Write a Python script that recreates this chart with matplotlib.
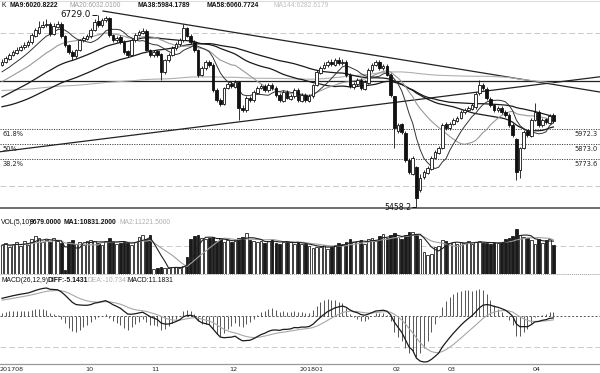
import numpy as np
import pandas as pd
import matplotlib
matplotlib.use("Agg")
import matplotlib.pyplot as plt

# ---------------- data ----------------
lead_close = [6310,6325,6298,6280,6302,6335,6350,6332,6318,6290,
              6275,6262,6285,6306,6322,6340,6365,6352,6330,6312,
              6296,6280,6268,6255,6270,6292,6315,6338,6356,6372,
              6360,6341,6320,6305,6288,6272,6259,6246,6262,6281,
              6300,6318,6334,6350,6336,6317,6299,6284,6270,6288,
              6306,6324,6345,6362,6378,6365,6348,6329,6311,6293,
              6276,6260,6274,6291,6309,6326,6342,6330,6314,6298,
              6283,6268,6252,6238,6250,6266,6284,6301,6318,6305,
              6290,6276,6262,6248,6235,6222,
              6205,6170,6132,6095,6060,6028,6002,5980,5962,5948,
              5940,5955,5970,5985,5962,5948,5960,5975,5990,5972,
              5968,5985,5978,6002,6020,6012,6035,6050,6044,6068,
              6085,6078,6102,6120,6112,6138,6155,6148,6170,6188,
              6180,6205,6222,6215,6240,6256,6248,6272,6290,6282,
              6305,6322,6315,6340,6358,6350,6375,6392]

open_ = [6400,6420,6440,6466,6480,6500,6515,6528,6548,6592,
         6610,6650,6664,6672,6600,6652,6672,6588,6532,6486,
         6455,6500,6560,6572,6588,6630,6690,6660,6694,6712,
         6598,6560,6580,6552,6488,6466,6560,6598,6612,6626,
         6495,6462,6488,6468,6350,6430,6466,6508,6535,6560,
         6645,6592,6552,6499,6335,6376,6420,6400,6235,6168,
         6138,6248,6275,6255,6288,6115,6098,6182,6164,6215,
         6248,6262,6230,6268,6248,6202,6163,6222,6176,6190,
         6235,6163,6202,6163,6190,6268,6348,6380,6395,6420,
         6400,6434,6408,6420,6335,6255,6270,6300,6242,6282,
         6362,6400,6420,6375,6394,6335,6190,5960,6005,5950,
         5772,5680,5720,5570,5655,5686,5712,5785,5818,5852,
         6005,5978,6010,6030,6050,6084,6102,6110,6120,6210,
         6268,6242,6175,6130,6098,6115,6085,6070,6004,5910,
         5700,5850,5958,5930,6036,6090,5998,6038,6016,6066]

close = [6418,6444,6464,6484,6497,6517,6530,6550,6596,6629,
         6649,6662,6669,6603,6656,6669,6590,6530,6484,6457,
         6497,6563,6576,6590,6629,6682,6662,6696,6709,6596,
         6563,6576,6550,6484,6464,6563,6596,6616,6623,6497,
         6464,6484,6464,6351,6431,6464,6510,6537,6563,6643,
         6590,6550,6497,6332,6378,6418,6398,6232,6166,6140,
         6245,6272,6259,6285,6113,6100,6179,6166,6219,6245,
         6259,6232,6265,6245,6199,6166,6219,6179,6192,6232,
         6166,6199,6166,6192,6265,6351,6378,6398,6418,6404,
         6431,6411,6418,6332,6259,6272,6298,6245,6285,6365,
         6398,6418,6378,6391,6332,6199,5981,6001,5954,5769,
         5689,5782,5517,5650,5689,5716,5782,5822,5848,6001,
         5981,6007,6034,6047,6087,6100,6113,6133,6206,6265,
         6245,6179,6133,6100,6113,6087,6067,6001,5934,5689,
         5848,5954,5934,6034,6087,6001,6034,6020,6060,6027]

high = [6436,6458,6480,6498,6515,6530,6548,6566,6610,6645,
        6692,6686,6700,6685,6675,6690,6684,6596,6540,6495,
        6505,6572,6590,6605,6642,6700,6729.0,6712,6722,6718,
        6605,6590,6594,6560,6498,6575,6612,6632,6645,6635,
        6505,6496,6500,6475,6440,6478,6522,6550,6576,6668,
        6652,6600,6560,6505,6392,6430,6432,6410,6245,6180,
        6255,6285,6290,6300,6295,6130,6190,6195,6230,6258,
        6272,6275,6278,6280,6258,6212,6230,6235,6205,6245,
        6245,6210,6212,6205,6275,6362,6392,6415,6432,6438,
        6445,6448,6436,6428,6342,6285,6310,6310,6296,6376,
        6410,6432,6430,6405,6402,6342,6196,6012,6015,5958,
        5780,5795,5728,5680,5702,5728,5795,5835,5862,6012,
        6018,6020,6048,6060,6098,6112,6126,6146,6218,6298,
        6282,6252,6185,6142,6125,6128,6098,6078,6012,5915,
        5858,5965,5970,6045,6146,6098,6046,6050,6072,6078]

low = [6388,6410,6432,6455,6470,6490,6505,6518,6540,6580,
       6600,6640,6650,6590,6594,6640,6575,6515,6470,6431,
       6445,6492,6548,6560,6578,6620,6650,6652,6685,6585,
       6548,6550,6535,6470,6450,6458,6552,6588,6600,6488,
       6452,6450,6448,6298,6340,6420,6458,6498,6525,6552,
       6580,6538,6485,6320,6325,6365,6385,6220,6150,6125,
       6130,6238,6246,6245,6034,6085,6090,6152,6155,6205,
       6236,6220,6222,6232,6188,6150,6155,6170,6165,6180,
       6155,6152,6156,6150,6182,6260,6340,6370,6385,6392,
       6392,6400,6398,6320,6245,6240,6260,6232,6234,6275,
       6352,6390,6368,6365,6322,6188,5848,5950,5940,5755,
       5675,5672,5458.2,5560,5645,5675,5702,5775,5808,5845,
       5970,5968,6000,6020,6040,6074,6092,6100,6110,6200,
       6232,6168,6120,6088,6085,6075,6052,5990,5922,5636,
       5650,5840,5920,5922,6025,5988,5985,6005,6005,6015]

volume = [9500,10200,8800,9900,10500,9200,10800,9700,11500,12400,
          11800,10600,11200,10400,11900,11000,10200,1200,10500,11200,
          9800,10400,9600,10900,11300,11000,10200,9600,10800,12000,
          10500,9800,10300,11000,10100,9700,10600,12300,12800,11600,
          12900,1800,2000,2300,2100,1900,2200,2400,2100,2600,
          5600,11500,12400,13000,12000,11600,11800,12200,11000,11800,
          10600,11200,10400,11000,11800,12300,13600,11200,10800,10500,
          11000,10200,10800,11500,10300,10000,10600,11000,10400,9800,
          10500,9800,10000,9200,8600,9000,8800,9500,8400,9000,
          9600,10200,9800,10600,11600,10400,10800,11200,10000,11400,
          11800,11000,12600,13200,12000,12800,13500,12200,11400,13000,
          13800,14000,13200,11600,7200,6200,6600,8800,9200,11200,
          10800,10200,10600,9800,10400,10200,10800,10000,10600,10900,
          10400,10200,9800,10500,10100,10700,11500,12000,12400,14800,
          12800,12200,12000,11200,10000,11600,10200,11300,11400,9679]

tick_pos = [0, 23, 41, 62, 81, 106, 121, 144]
tick_labels = ["201708", "10", "11", "12", "201801", "02", "03", "04"]

fib_low, fib_high = 5451.8, 6294.2
fib_levels = [5773.6, 5873.0, 5972.3]
fib_names = ["38.2%", "50%", "61.8%"]
fib_values = ["5773.6", "5873.0", "5972.3"]

trend_lines = [((27.3, 6755), (161.6, 6219)),
               ((-0.54, 5824), (161.6, 6320))]
grid_prices = [6610, 5597]

# ---------------- indicators ----------------
n = len(close)
idx = np.arange(n)
s_all = pd.Series(lead_close + close, dtype=float)
L = len(lead_close)
mas = {p: s_all.rolling(p, min_periods=1).mean().values[L:] for p in (9, 20, 38, 58, 144)}
ema12 = s_all.ewm(span=12, adjust=False).mean()
ema26 = s_all.ewm(span=26, adjust=False).mean()
diff_all = ema12 - ema26
dea_all = diff_all.ewm(span=9, adjust=False).mean()
diff = diff_all.values[L:]
dea = dea_all.values[L:]
hist = 2 * (diff - dea)
vs = pd.Series(volume, dtype=float)
vma5 = vs.rolling(5, min_periods=1).mean().values
vma10 = vs.rolling(10, min_periods=1).mean().values

o = np.array(open_, float); c = np.array(close, float)
h = np.array(high, float); lo = np.array(low, float)
up = c >= o

# ---------------- figure ----------------
W, H = 600, 373
fig = plt.figure(figsize=(6.0, 3.73), dpi=100)
fig.patch.set_facecolor("white")

def axes_px(top, bottom):
    return fig.add_axes([0, 1 - bottom / H, 1, (bottom - top) / H])

XL = (-0.54, 161.6)
ax1 = axes_px(8, 208)
ax2 = axes_px(228, 274)
ax3 = axes_px(286, 364)
for a in (ax1, ax2, ax3):
    a.set_xlim(*XL)
    a.axis("off")

# price panel
ax1.set_ylim(fib_low, 6775)
for gp in grid_prices:
    ax1.axhline(gp, color="#c8c8c8", lw=0.7, ls=(0, (6, 3)), zorder=0)
for lv in fib_levels:
    ax1.axhline(lv, color="#444444", lw=0.7, ls=(0, (1.2, 1.3)), zorder=1)
ax1.axhline(fib_high, color="#222222", lw=0.9, zorder=2)
ax1.axhline(fib_low, color="#555555", lw=1.2, zorder=2, clip_on=False)
for (x0, y0), (x1, y1) in trend_lines:
    ax1.plot([x0, x1], [y0, y1], color="#222222", lw=0.9, zorder=2)

ax1.plot(idx, mas[144], color="#b0b0b0", lw=0.8, zorder=3)
ax1.plot(idx, mas[58], color="#1a1a1a", lw=0.9, zorder=3)
ax1.plot(idx, mas[38], color="#1a1a1a", lw=0.9, zorder=3)
ax1.plot(idx, mas[20], color="#9a9a9a", lw=0.8, zorder=3)
ax1.plot(idx, mas[9], color="#333333", lw=0.7, zorder=3)

bw = 0.72
ax1.vlines(idx, lo, h, color="#111111", lw=0.6, zorder=4)
ax1.bar(idx[up], (c - o)[up], bottom=o[up], width=bw, color="white",
        edgecolor="#111111", linewidth=0.6, zorder=5)
ax1.bar(idx[~up], (c - o)[~up], bottom=o[~up], width=bw, color="#111111",
        edgecolor="#111111", linewidth=0.6, zorder=5)

# max / min annotations
imax = int(np.argmax(h)); imin = int(np.argmin(lo))
ax1.hlines(h[imax], imax - 1.7, imax - 0.3, color="#111111", lw=0.7)
ax1.text(imax - 1.9, h[imax], f"{h[imax]:.1f}", ha="right", va="center",
         fontsize=6.3, color="#111111")
ax1.hlines(lo[imin], imin - 1.3, imin - 0.2, color="#111111", lw=0.7)
ax1.text(imin - 1.4, lo[imin], f"{lo[imin]:.1f}", ha="right", va="center",
         fontsize=5.6, color="#111111", clip_on=False)

# fib labels
for lv, nm, val in zip(fib_levels, fib_names, fib_values):
    ax1.annotate(nm, (0, lv), xycoords=("axes fraction", "data"),
                 xytext=(2, -3.3), textcoords="offset points", fontsize=4.8,
                 ha="left", va="center", color="#222222")
    ax1.annotate(val, (1, lv), xycoords=("axes fraction", "data"),
                 xytext=(-2, -3.3), textcoords="offset points", fontsize=4.8,
                 ha="right", va="center", color="#222222")

# volume panel
ax2.set_ylim(0, 15180)
ax2.axhline(9240, color="#cccccc", lw=0.7, ls=(0, (6, 3)), zorder=0)
ax2.axhline(0, color="#999999", lw=0.7, ls=(0, (1, 1)), zorder=1, clip_on=False)
v = np.array(volume, float)
ax2.bar(idx[up], v[up], width=bw, color="white", edgecolor="#222222",
        linewidth=0.6, zorder=2)
ax2.bar(idx[~up], v[~up], width=bw, color="#1a1a1a", edgecolor="#1a1a1a",
        linewidth=0.6, zorder=2)
ax2.plot(idx, vma10, color="#a0a0a0", lw=0.8, zorder=3)
ax2.plot(idx, vma5, color="#222222", lw=0.8, zorder=3)

# macd panel: DIFF/DEA range fitted between pixel rows 288 and 362
lo_v = min(diff.min(), dea.min())
hi_v = max(diff.max(), dea.max(), hist.max())
upp = (hi_v - lo_v) / (362 - 288)
bot = lo_v - (364 - 362) * upp
ax3.set_ylim(bot, hi_v + (288 - 286) * upp)
ax3.axhline(0, color="#555555", lw=0.7, ls=(0, (2, 2)), zorder=1)
ax3.axhline(bot + (364 - 347) * upp, color="#cccccc", lw=0.7, ls=(0, (6, 3)), zorder=0)
ax3.axhline(bot, color="#999999", lw=0.9, zorder=1, clip_on=False)
ax3.vlines(idx, 0, hist, color="#555555", lw=0.7, zorder=2)
ax3.plot(idx, dea, color="#a8a8a8", lw=0.8, zorder=3)
ax3.plot(idx, diff, color="#1a1a1a", lw=0.9, zorder=3)

# date labels
for p, lab in zip(tick_pos, tick_labels):
    ax3.annotate(lab, (p, 0), xycoords=("data", "axes fraction"),
                 xytext=(-1.5, -4.0), textcoords="offset points",
                 fontsize=4.6, ha="left", va="center", color="#222222",
                 annotation_clip=False)

# top border
fig.add_artist(plt.Line2D([0, 1], [1 - 1 / H, 1 - 1 / H], color="#dddddd", lw=0.8))

# header texts
def hdr(x, y, txt, color="#111111", weight="bold", size=4.9):
    fig.text(x / W, 1 - y / H, txt, ha="left", va="center", fontsize=size,
             color=color, fontweight=weight, family="Liberation Sans")

hdr(1, 5.5, "K", weight="normal")
hdr(10, 5.5, "MA9:6020.8222")
hdr(70, 5.5, "MA20:6032.0100", color="#a0a0a0", weight="normal")
hdr(137, 5.5, "MA38:5984.1789")
hdr(207, 5.5, "MA58:6060.7724")
hdr(274, 5.5, "MA144:6282.6179", color="#c0c0c0", weight="normal")

hdr(1, 223, "VOL(5,10)", weight="normal")
hdr(30, 223, "9679.0000")
hdr(64, 223, "MA1:10831.2000")
hdr(119, 223, "MA2:11221.5000", color="#b0b0b0", weight="normal")

hdr(1, 281, "MACD(26,12,9)", weight="normal")
hdr(47, 281, "DIFF:-5.1431")
hdr(88, 281, "DEA:-10.7347", color="#b0b0b0", weight="normal")
hdr(127, 281, "MACD:11.1831", weight="normal")

fig.savefig("out.png", dpi=100, facecolor="white")
